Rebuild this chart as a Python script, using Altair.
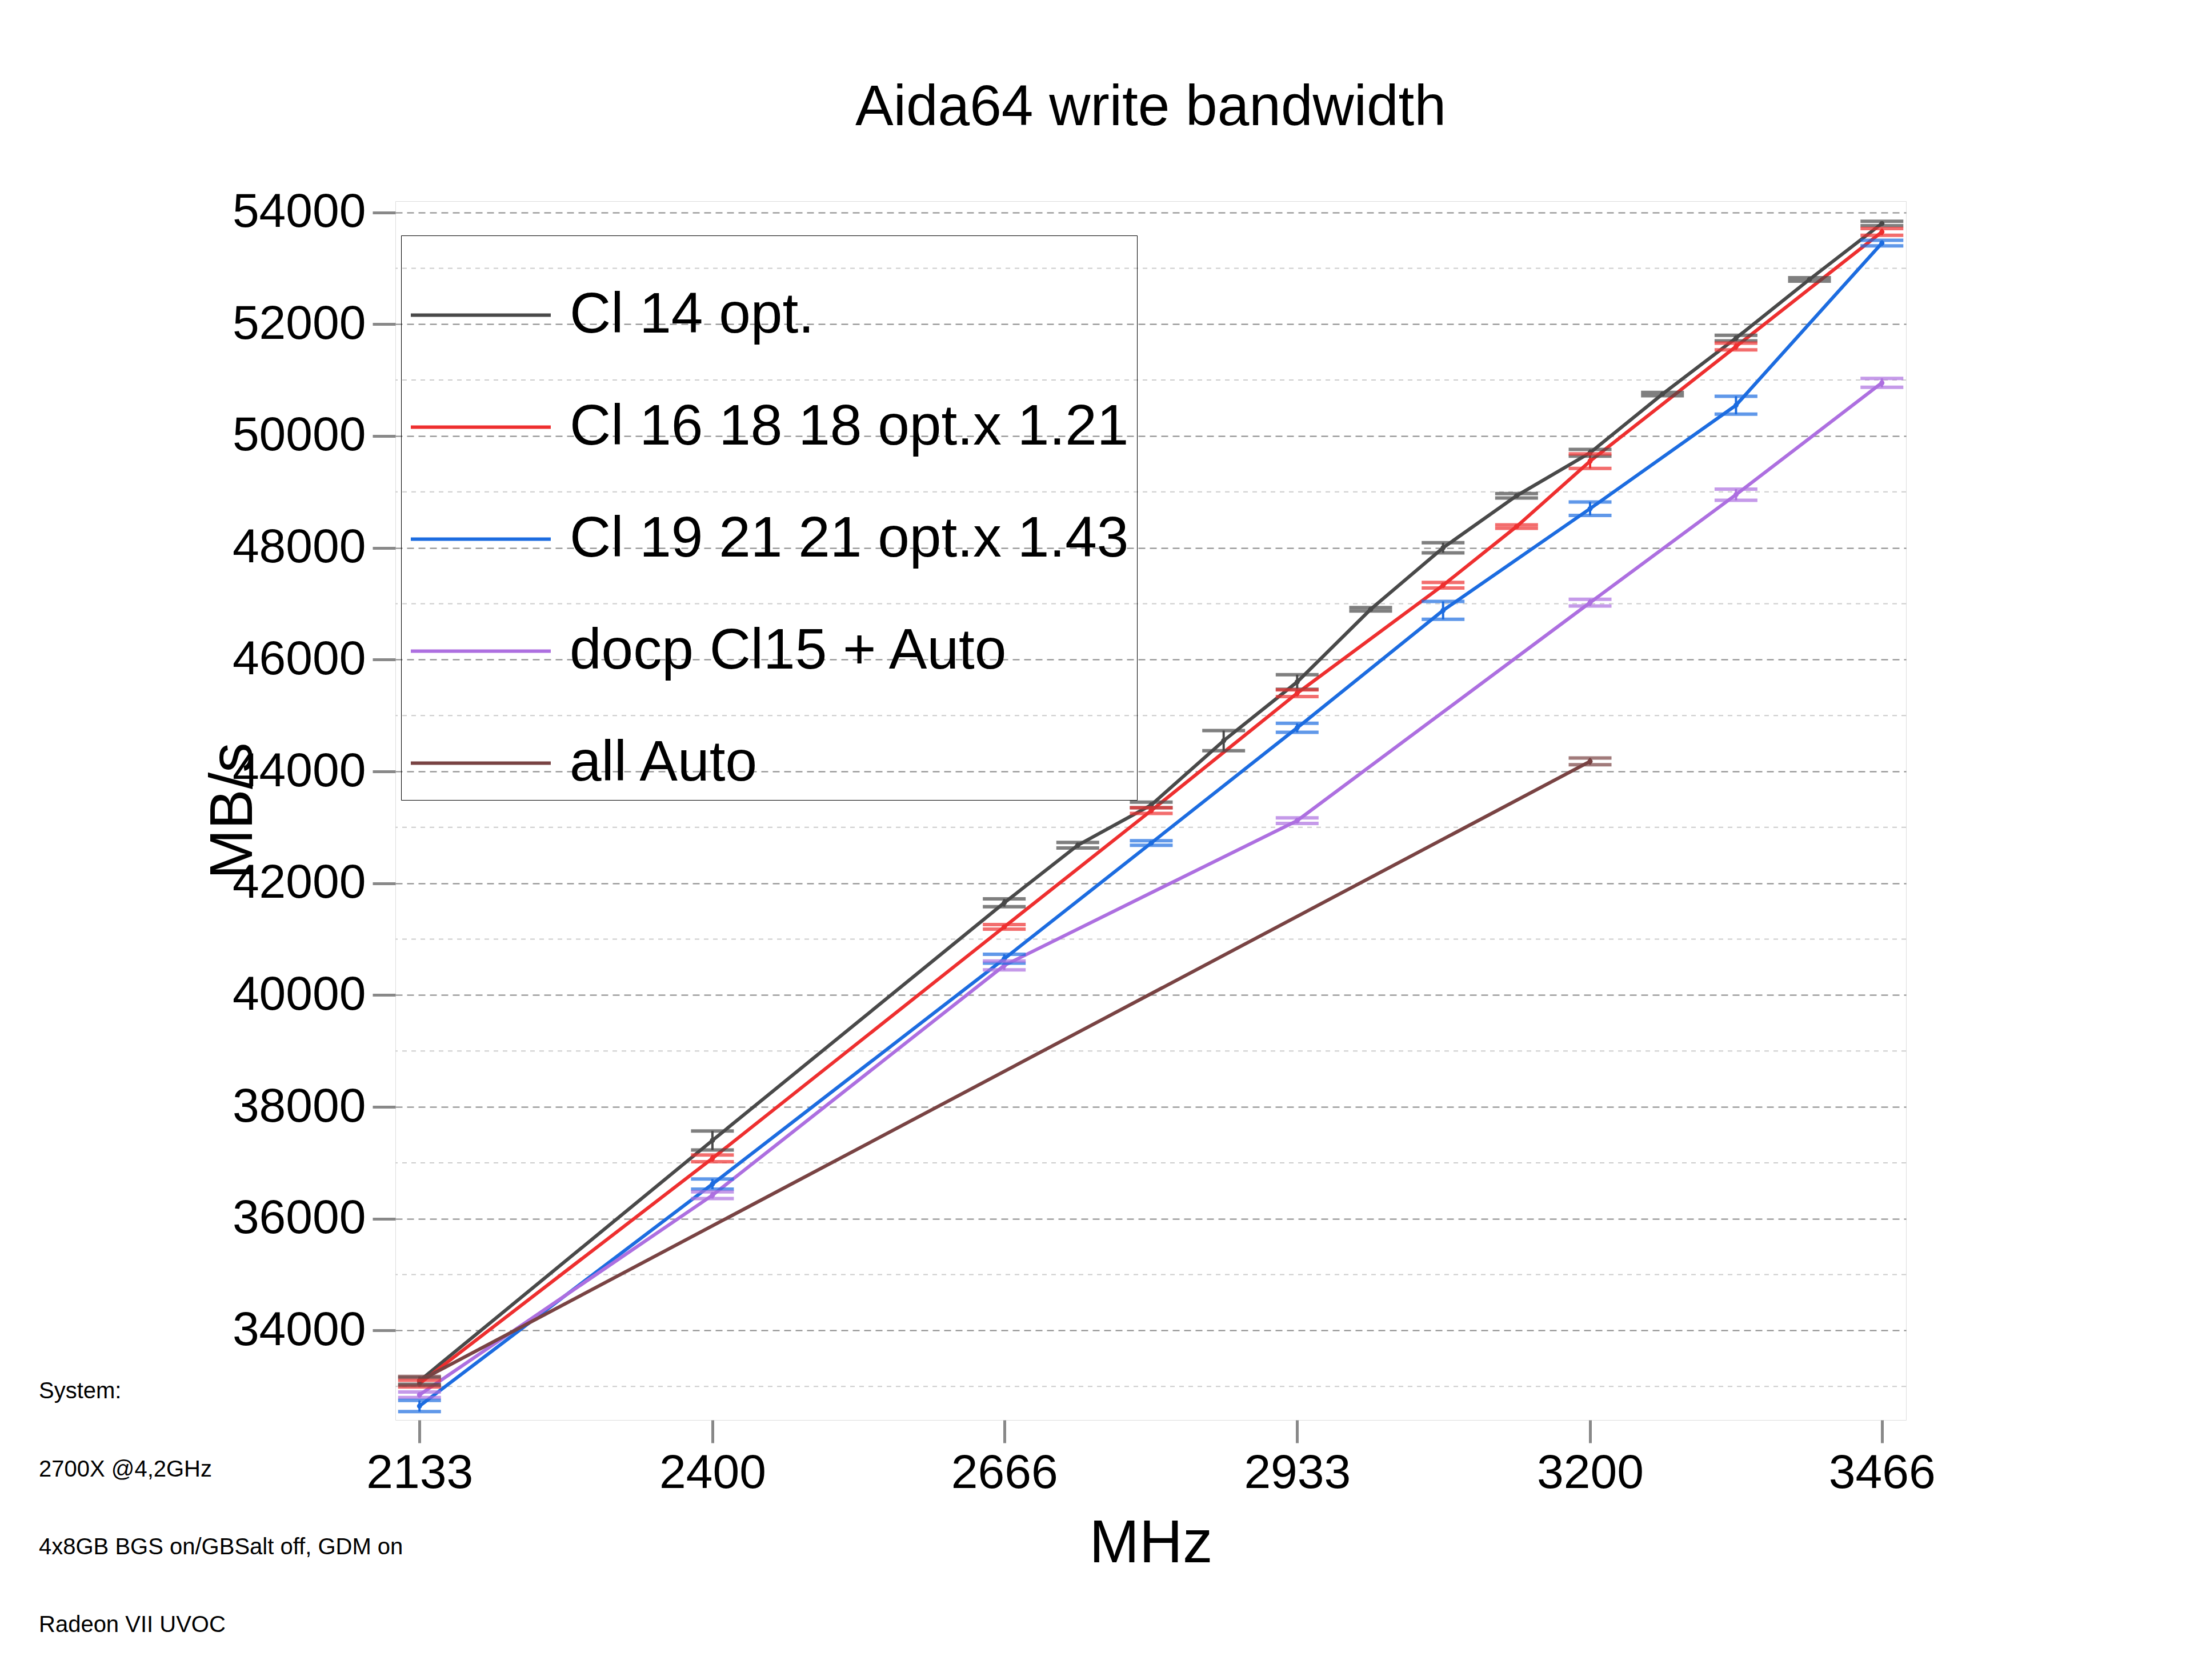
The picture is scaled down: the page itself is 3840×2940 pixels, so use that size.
import altair as alt
import pandas as pd

mhz_cl14 = [2133, 2400, 2666, 2733, 2800, 2866, 2933, 3000, 3066, 3133, 3200, 3266, 3333, 3400, 3466]
bw_cl14 = [33100, 37400, 41650, 42680, 43400, 44550, 45600, 46900, 48000, 48930, 49700, 50750, 51750, 52800, 53800]
err_cl14 = [60, 170, 70, 50, 50, 180, 130, 30, 90, 40, 60, 30, 50, 30, 40]

mhz_cl16 = [2133, 2400, 2666, 2800, 2933, 3066, 3133, 3200, 3333, 3466]
bw_cl16 = [33050, 37080, 41220, 43300, 45400, 47330, 48380, 49550, 51600, 53650]
err_cl16 = [60, 60, 40, 50, 60, 50, 30, 130, 60, 60]

mhz_cl19 = [2133, 2400, 2666, 2800, 2933, 3066, 3200, 3333, 3466]
bw_cl19 = [32650, 36620, 40650, 42720, 44780, 46880, 48700, 50550, 53450]
err_cl19 = [100, 90, 80, 40, 80, 160, 120, 160, 50]

mhz_docp = [2133, 2400, 2666, 2933, 3200, 3333, 3466]
bw_docp = [32850, 36420, 40530, 43120, 47020, 48950, 50950]
err_docp = [50, 60, 80, 50, 60, 100, 80]

mhz_auto = [2133, 3200]
bw_auto = [33100, 44180]
err_auto = [80, 60]

series = ["Cl 14 opt.", "Cl 16 18 18 opt.x 1.21", "Cl 19 21 21 opt.x 1.43", "docp Cl15 + Auto", "all Auto"]
colors = ["#494949", "#ee2f2f", "#1c6ce0", "#ad6fe0", "#794343"]
notes = ["System:", "2700X @4,2GHz", "4x8GB BGS on/GBSalt off, GDM on", "Radeon VII UVOC"]

rows = []
for name, xs, ys, es in zip(series,
                            [mhz_cl14, mhz_cl16, mhz_cl19, mhz_docp, mhz_auto],
                            [bw_cl14, bw_cl16, bw_cl19, bw_docp, bw_auto],
                            [err_cl14, err_cl16, err_cl19, err_docp, err_auto]):
    for x, y, e in zip(xs, ys, es):
        rows.append({"series": name, "mhz": x, "bw": y, "lo": y - e, "hi": y + e})
df = pd.DataFrame(rows)

W, H = 2644, 2133
xsc = alt.Scale(domain=[2111, 3488], nice=False, zero=False)
ysc = alt.Scale(domain=[32400, 54200], nice=False, zero=False)
csc = alt.Scale(domain=series, range=colors)
col = alt.Color("series:N", scale=csc,
                legend=alt.Legend(title=None, orient="none", legendX=10, legendY=60,
                                  labelFontSize=100, labelFont="Liberation Sans",
                                  symbolType="stroke", symbolSize=60000, symbolStrokeWidth=6,
                                  rowPadding=20, padding=14, strokeColor="black",
                                  labelLimit=3000, labelOffset=30))

base = alt.Chart(df)
lines = base.mark_line(strokeWidth=6, point=alt.OverlayMarkDef(size=80, filled=True)).encode(
    x=alt.X("mhz:Q", scale=xsc,
            axis=alt.Axis(title="MHz", values=[2133, 2400, 2666, 2933, 3200, 3466], format="d",
                          grid=False, titleFontSize=105, titleFontWeight="normal",
                          labelFontSize=84, titlePadding=30, labelPadding=12,
                          tickSize=40, tickWidth=5, domain=False, labelLimit=1000)),
    y=alt.Y("bw:Q", scale=ysc,
            axis=alt.Axis(title="MB/s", values=list(range(34000, 54001, 2000)), format="d",
                          grid=True, gridDash=[12, 8], gridColor="#888", gridWidth=2,
                          titleFontSize=105, titleFontWeight="normal", labelFontSize=84,
                          titlePadding=30, labelPadding=12, tickSize=40, tickWidth=5,
                          domain=False, labelLimit=1000)),
    color=col, order="mhz:Q")

minor = alt.Chart(pd.DataFrame({"v": list(range(33000, 54001, 2000))})).mark_rule(
    strokeDash=[8, 8], color="#ccc", strokeWidth=2).encode(y=alt.Y("v:Q", scale=ysc))

ecol = alt.Color("series:N", legend=None, scale=csc)
bars = base.mark_rule(strokeWidth=4).encode(
    x=alt.X("mhz:Q", scale=xsc), y=alt.Y("lo:Q", scale=ysc), y2="hi:Q", color=ecol)
caps_lo = base.mark_tick(size=75, thickness=6, orient="horizontal").encode(
    x=alt.X("mhz:Q", scale=xsc), y=alt.Y("lo:Q", scale=ysc), color=ecol)
caps_hi = base.mark_tick(size=75, thickness=6, orient="horizontal").encode(
    x=alt.X("mhz:Q", scale=xsc), y=alt.Y("hi:Q", scale=ysc), color=ecol)

note_df = pd.DataFrame({"t": notes})
foot = [alt.Chart(note_df).transform_filter(alt.datum.t == t).mark_text(
            align="left", baseline="middle", fontSize=40, font="Liberation Sans").encode(
            x=alt.value(-624), y=alt.value(yy), text="t:N")
        for t, yy in zip(notes, [2083, 2220, 2356, 2492])]

chart = alt.layer(minor, lines, bars, caps_lo, caps_hi, *foot).properties(
    width=W, height=H,
    title=alt.Title("Aida64 write bandwidth", fontSize=100, fontWeight="normal",
                    font="Liberation Sans", offset=90),
    padding={"left": 60, "top": 130, "right": 40, "bottom": 40}
).configure_view(stroke="black", strokeWidth=7).configure(font="Liberation Sans").configure_axis(
    labelFont="Liberation Sans", titleFont="Liberation Sans", labelColor="black", titleColor="black")

chart.save("out.html", embed_options={"renderer": "svg", "actions": False})
